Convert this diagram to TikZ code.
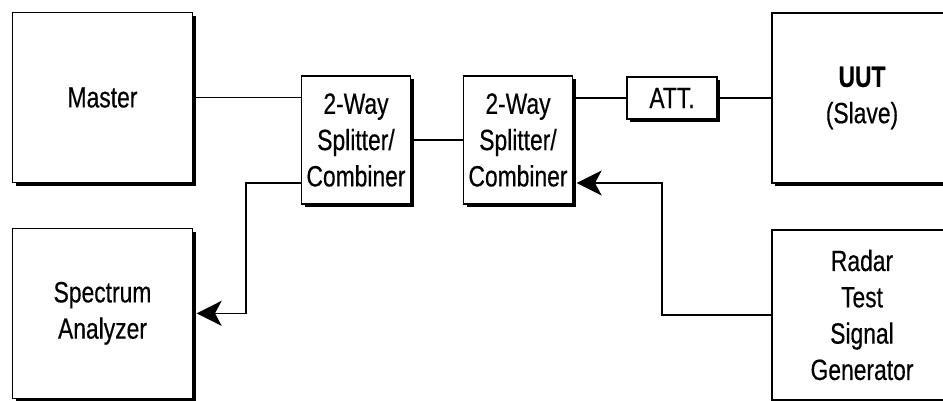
\documentclass[tikz,border=0pt]{standalone}
\usepackage{fontspec}
\setmainfont[FakeStretch=0.78, FakeBold=0.4]{Liberation Sans}
\usetikzlibrary{positioning,shadows,arrows.meta}

\begin{document}
\begin{tikzpicture}[line width=1.4pt,
    main/.style = {draw, fill=white, align=center, font=\fontsize{25}{31}\selectfont,
      drop shadow={shadow xshift=0.1cm, shadow yshift=-0.1cm, fill=black, opacity=1}},
    big/.style = {main, minimum width=5.4cm, minimum height=5.1cm},
    split/.style = {main, minimum width=3.27cm, minimum height=3.84cm},
    sig/.style = {-{Stealth[length=0.75cm, width=0.75cm, inset=0.2cm]}}]
    \useasboundingbox (0,0) rectangle (28.29,12);
    \node[big] (m) at (3.075,9.075) {Master};
    \node[big] (sa) at (3.075,2.6) {Spectrum\\Analyzer};
    \node[split] (s1) at (10.68,7.8) {2-Way\\Splitter/\\Combiner};
    \node[split] (s2) at (15.54,7.8) {2-Way\\Splitter/\\Combiner};
    \node[main, minimum width=2.7cm, minimum height=1.26cm] (att) at (20.16,9.06) {ATT.};
    \node[big] (uut) at (25.86,9.06) {\textbf{UUT}\\(Slave)};
    \node[big] (rg) at (25.86,2.55) {Radar\\Test\\Signal\\Generator};
    \coordinate (s1out) at ([yshift=-1.29cm]s1.west);
    \coordinate (s2in) at ([yshift=-1.29cm, xshift=0.1cm]s2.east);
    \draw (m.east) -- (m.east -| s1.west);
    \draw (s1.east) -- (s2.west);
    \draw (att.west -| s2.east) -- (att.west);
    \draw (att.east) -- (uut.west);
    \draw[sig] (s1out) -- ++(-1.65,0) |- ([xshift=0.1cm]sa.east);
    \draw[sig] (rg.west) -- ++(-3.27,0) |- (s2in);
\end{tikzpicture}
\end{document}
